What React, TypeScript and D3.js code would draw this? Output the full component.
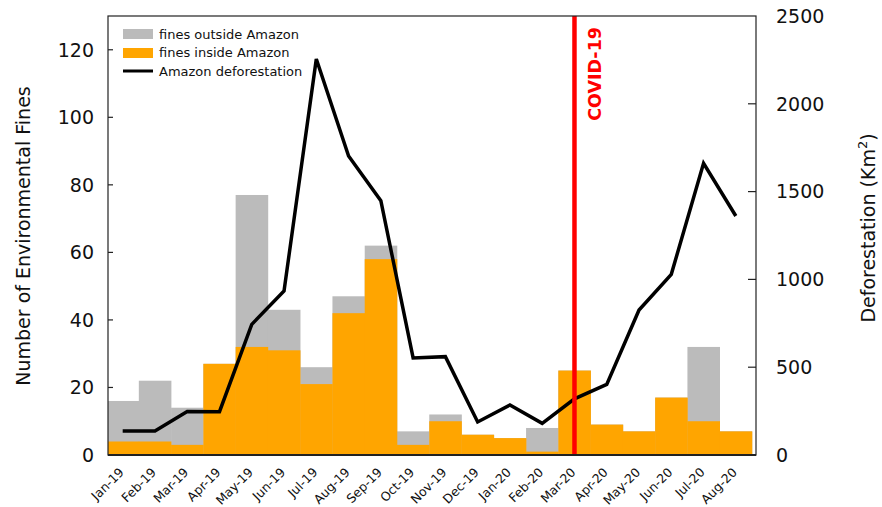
import React from "react";
import * as d3 from "d3";

const months = ["Jan-19","Feb-19","Mar-19","Apr-19","May-19","Jun-19","Jul-19","Aug-19","Sep-19","Oct-19","Nov-19","Dec-19","Jan-20","Feb-20","Mar-20","Apr-20","May-20","Jun-20","Jul-20","Aug-20"];
const finesInside = [4,4,3,27,32,31,21,42,58,3,10,6,5,1,25,9,7,17,10,7];
const finesOutside = [12,18,11,0,45,12,5,5,4,4,2,0,0,7,0,0,0,0,22,0];
const deforestation = [136,137,248,247,744,934,2255,1703,1448,553,560,188,285,180,320,402,826,1029,1661,1361];
const leftTicks = [0,20,40,60,80,100,120];
const rightTicks = [0,500,1000,1500,2000,2500];
const covidIndex = 14;

const W = 882, H = 507;
const L = 108, R = 756, T = 16, B = 455;
const FONT = "'DejaVu Sans', Verdana, sans-serif";

export default function App() {
  const x = d3.scaleLinear().domain([-0.455, 19.625]).range([L, R]);
  const yL = d3.scaleLinear().domain([0, 130]).range([B, T]);
  const yR = d3.scaleLinear().domain([0, 2500]).range([B, T]);
  const bw = x(1) - x(0);
  const line = d3.line<number>().x((_, i) => x(i)).y(d => yR(d));

  return (
    <svg width={W} height={H} style={{ position: "absolute", left: 0, top: 0, background: "#fff" }} fontFamily={FONT}>
      <defs>
        <clipPath id="plot"><rect x={L} y={T} width={R - L} height={B - T} /></clipPath>
      </defs>
      <rect x={0} y={0} width={W} height={H} fill="#fff" />
      <g clipPath="url(#plot)">
        {months.map((m, i) => (
          <rect key={"g" + m} x={x(i - 0.5)} width={bw + 0.3} y={yL(finesInside[i] + finesOutside[i])}
            height={B - yL(finesInside[i] + finesOutside[i])} fill="#bbbbbb" />
        ))}
        {months.map((m, i) => (
          <rect key={"o" + m} x={x(i - 0.5)} width={bw + 0.3} y={yL(finesInside[i])}
            height={B - yL(finesInside[i])} fill="#ffa500" />
        ))}
        <path d={line(deforestation) || ""} fill="none" stroke="#000" strokeWidth={3.5} strokeLinejoin="miter" />
        <line x1={x(covidIndex)} x2={x(covidIndex)} y1={T} y2={B} stroke="#ff0000" strokeWidth={4.5} />
      </g>
      <text transform={`translate(${x(covidIndex) + 27},27) rotate(-90)`} textAnchor="end" fill="#ff0000"
        fontWeight="bold" fontSize={17.5}>COVID-19</text>
      {/* frame */}
      <rect x={L} y={T} width={R - L} height={B - T} fill="none" stroke="#222" strokeWidth={1.2} />
      <line x1={L} x2={R} y1={B} y2={B} stroke="#222" strokeWidth={2} />
      {/* left axis */}
      {leftTicks.map(t => (
        <g key={"l" + t}>
          {t > 0 && <line x1={L} x2={L + 5} y1={yL(t)} y2={yL(t)} stroke="#222" strokeWidth={1.2} />}
          <text x={94} y={yL(t)} dy="0.36em" textAnchor="end" fontSize={19} fill="#111">{t}</text>
        </g>
      ))}
      {rightTicks.map(t => (
        <g key={"r" + t}>
          {t > 0 && t < 2500 && <line x1={R - 8} x2={R} y1={yR(t)} y2={yR(t)} stroke="#222" strokeWidth={1.2} />}
          <text x={776} y={yR(t)} dy="0.36em" textAnchor="start" fontSize={19} fill="#111">{t}</text>
        </g>
      ))}
      <text transform={`translate(30,236) rotate(-90)`} textAnchor="middle" fontSize={19} fill="#111">Number of Environmental Fines</text>
      <text transform={`translate(875,228) rotate(-90)`} textAnchor="middle" fontSize={19} fill="#111">
        Deforestation (Km<tspan dy="-8" fontSize={13}>2</tspan><tspan dy="8">)</tspan>
      </text>
      {/* x labels */}
      {months.map((m, i) => (
        <text key={"x" + m} transform={`translate(${x(i) + 2},473) rotate(-45)`} textAnchor="end" fontSize={12.5} fill="#111">{m}</text>
      ))}
      {/* legend */}
      <rect x={123} y={29} width={30} height={10} fill="#bbbbbb" />
      <rect x={123} y={48} width={30} height={10} fill="#ffa500" />
      <line x1={123} x2={153} y1={71} y2={71} stroke="#000" strokeWidth={3} />
      <text x={159} y={34} dy="0.36em" fontSize={13} fill="#111">fines outside Amazon</text>
      <text x={159} y={52.5} dy="0.36em" fontSize={13} fill="#111">fines inside Amazon</text>
      <text x={159} y={71} dy="0.36em" fontSize={13} fill="#111">Amazon deforestation</text>
    </svg>
  );
}
